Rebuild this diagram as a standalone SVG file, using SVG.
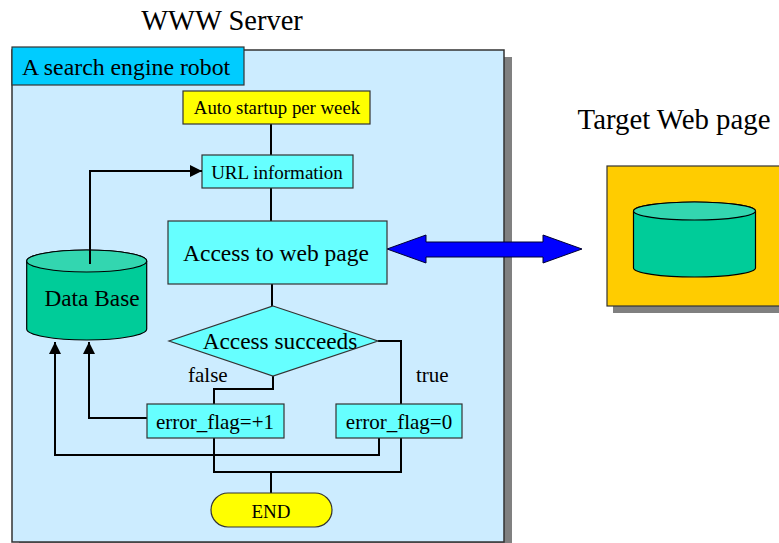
<svg xmlns="http://www.w3.org/2000/svg" width="779" height="543" viewBox="0 0 779 543">
<style>
text{font-family:"Liberation Serif","Times New Roman",serif;fill:#000}
.box{stroke:#333;stroke-width:1.2}
.cyan{fill:#66ffff}
.yel{fill:#ffff00}
.conn{fill:none;stroke:#000;stroke-width:2}
.dbbody{fill:#00cc99;stroke:#000;stroke-width:1.2}
.dbtop{fill:#33d6b0;stroke:#000;stroke-width:1.2}
.shadow{fill:#808080}
</style>
<defs>
<marker id="ah" markerUnits="userSpaceOnUse" markerWidth="12" markerHeight="12" viewBox="0 0 12 12" refX="12" refY="6" orient="auto">
<path d="M0,0 L12,6 L0,12 z" fill="#000"/>
</marker>
</defs>

<text x="222" y="30" font-size="28.5" text-anchor="middle">WWW Server</text>
<text x="674" y="129" font-size="28.8" text-anchor="middle">Target Web page</text>

<g id="server-panel">
<rect class="shadow" x="19" y="57" width="493" height="492"/>
<rect x="12" y="50" width="492" height="492" fill="#ccecff" stroke="#333" stroke-width="1.5"/>
</g>
<g id="robot-title">
<rect class="box" x="12" y="47" width="232" height="38" fill="#00ccff"/>
<text x="22" y="75" font-size="23.8">A search engine robot</text>
</g>

<g id="connectors">
<polyline class="conn" points="271,123 271,155"/>
<polyline class="conn" points="271,188 271,221"/>
<polyline class="conn" points="272,284 272,306"/>
<polyline class="conn" points="273,376 273,389 214,389 214,404"/>
<polyline class="conn" points="378,341 401,341 401,404"/>
<polyline class="conn" points="147,418 89,418 89,342" marker-end="url(#ah)"/>
<polyline class="conn" points="379,438 379,455 55,455 55,342" marker-end="url(#ah)"/>
<polyline class="conn" points="214,438 214,472 401,472 401,438"/>
<polyline class="conn" points="271,472 271,493"/>
<polygon points="387,249 426,235 426,242 543,242 543,235 582,249 543,263 543,257 426,257 426,263" fill="#0000ff" stroke="#000033" stroke-width="1"/>
</g>

<g id="auto-startup">
<rect class="box yel" x="183" y="91" width="187" height="33"/>
<text x="277" y="114" font-size="18.8" text-anchor="middle">Auto startup per week</text>
</g>
<g id="url-info">
<rect class="box cyan" x="202" y="155" width="151" height="33"/>
<text x="277" y="179" font-size="19" text-anchor="middle">URL information</text>
</g>
<g id="access-page">
<rect class="box cyan" x="168" y="221" width="219" height="63"/>
<text x="276" y="261" font-size="23.5" text-anchor="middle">Access to web page</text>
</g>
<g id="access-succeeds">
<polygon class="box cyan" points="273,306 378,341 273,376 169,341"/>
<text x="280" y="349" font-size="23.3" text-anchor="middle">Access succeeds</text>
<text x="188" y="382" font-size="21">false</text>
<text x="416" y="382" font-size="21">true</text>
</g>
<g id="error-plus1">
<rect class="box cyan" x="147" y="404" width="137" height="34"/>
<text x="215" y="429" font-size="21" text-anchor="middle">error_flag=+1</text>
</g>
<g id="error-0">
<rect class="box cyan" x="336" y="404" width="126" height="34"/>
<text x="399" y="429" font-size="21" text-anchor="middle">error_flag=0</text>
</g>
<g id="end">
<rect class="box yel" x="211" y="493" width="121" height="34" rx="17" ry="17"/>
<text x="271" y="518" font-size="19" text-anchor="middle">END</text>
</g>

<g id="database">
<path class="dbbody" d="M26.7,261 V329 A60,11 0 0 0 146.7,329 V261 A60,11 0 0 0 26.7,261 z"/>
<ellipse class="dbtop" cx="86.7" cy="261" rx="60" ry="11"/>
<text x="92" y="306" font-size="23.3" text-anchor="middle">Data Base</text>
</g>
<g id="db-to-url">
<polyline class="conn" points="90,264 90,171 202,171" marker-end="url(#ah)"/>
</g>

<g id="target-page">
<rect class="shadow" x="613" y="172" width="180" height="141"/>
<rect class="box" x="607" y="166" width="180" height="140" fill="#ffcc00"/>
<path class="dbbody" d="M633.5,211 V268 A61,9 0 0 0 755.5,268 V211 A61,9 0 0 0 633.5,211 z"/>
<ellipse class="dbtop" cx="694.5" cy="211" rx="61" ry="9"/>
</g>
</svg>
